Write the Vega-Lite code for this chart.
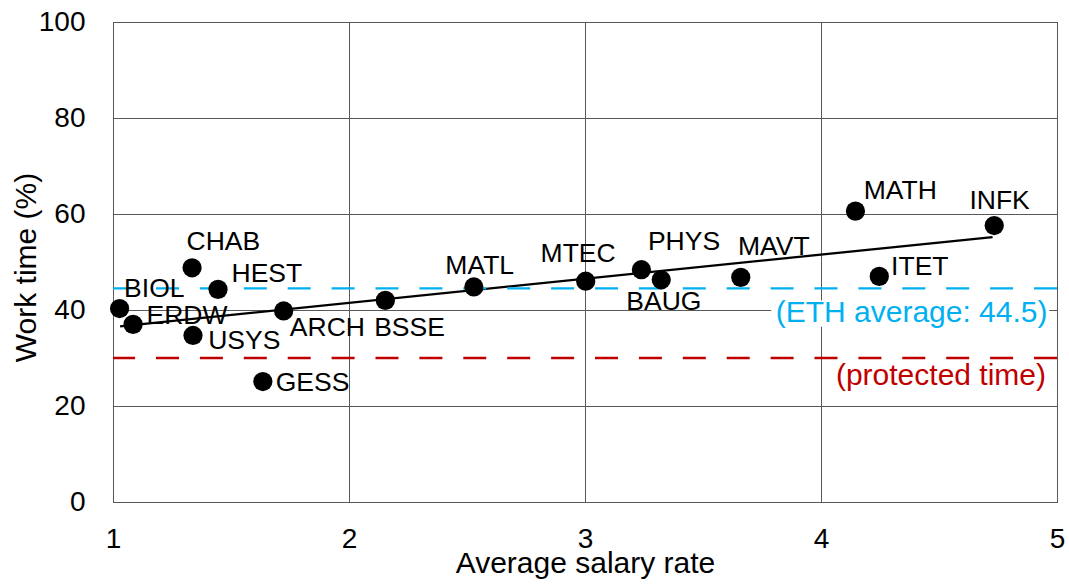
{
  "$schema": "https://vega.github.io/schema/vega-lite/v6.json",
  "width": 944,
  "height": 480,
  "autosize": "none",
  "padding": {"left": 113, "top": 22, "right": 12, "bottom": 83},
  "background": "white",
  "config": {
    "font": "Liberation Sans",
    "view": {"stroke": "#000000", "strokeWidth": 1},
    "axisX": {"labelFontSize": 28, "labelPadding": 23, "ticks": false, "domain": false, "grid": true, "gridColor": "#595959", "gridWidth": 1, "gridOpacity": 1, "labelFlush": false, "labelOverlap": false, "titleFontSize": 30, "titleFontWeight": "normal", "titleY": 70, "titleBaseline": "alphabetic", "labelColor": "#000000", "titleColor": "#000000", "labelFont": "Liberation Sans", "titleFont": "Liberation Sans"},
    "axisY": {"labelFontSize": 28, "labelPadding": 28, "ticks": false, "domain": false, "grid": true, "gridColor": "#595959", "gridWidth": 1, "gridOpacity": 1, "labelFlush": false, "labelOverlap": false, "titleFontSize": 30, "titleFontWeight": "normal", "titleX": -78, "titleY": 245, "titleAngle": 270, "titleAlign": "center", "titleBaseline": "alphabetic", "labelColor": "#000000", "titleColor": "#000000", "labelFont": "Liberation Sans", "titleFont": "Liberation Sans"},
    "text": {"align": "left", "baseline": "alphabetic", "fontSize": 26.5, "font": "Liberation Sans", "color": "#000000"}
  },
  "datasets": {
    "depts": [
      {"dept": "BIOL", "sal": 1.028, "work": 40.3},
      {"dept": "ERDW", "sal": 1.085, "work": 37.0},
      {"dept": "CHAB", "sal": 1.335, "work": 48.8},
      {"dept": "HEST", "sal": 1.445, "work": 44.3},
      {"dept": "USYS", "sal": 1.339, "work": 34.7},
      {"dept": "GESS", "sal": 1.635, "work": 25.1},
      {"dept": "ARCH", "sal": 1.723, "work": 39.8},
      {"dept": "BSSE", "sal": 2.154, "work": 42.0},
      {"dept": "MATL", "sal": 2.529, "work": 44.8},
      {"dept": "MTEC", "sal": 3.003, "work": 46.0},
      {"dept": "PHYS", "sal": 3.239, "work": 48.4},
      {"dept": "BAUG", "sal": 3.323, "work": 46.3},
      {"dept": "MAVT", "sal": 3.660, "work": 46.8},
      {"dept": "MATH", "sal": 4.146, "work": 60.6},
      {"dept": "ITET", "sal": 4.247, "work": 47.0},
      {"dept": "INFK", "sal": 4.734, "work": 57.6}
    ],
    "trend": [
      {"sal": 1.03, "work": 36.6},
      {"sal": 4.727, "work": 55.2}
    ],
    "refs": [
      {"note": "(ETH average: 44.5)", "work": 44.5},
      {"note": "(protected time)", "work": 30}
    ]
  },
  "layer": [
    {
      "data": {"name": "trend"},
      "mark": {"type": "line", "color": "#000000", "strokeWidth": 2.3},
      "encoding": {
        "x": {"field": "sal", "type": "quantitative", "title": "Average salary rate", "scale": {"domain": [1, 5], "nice": false, "zero": false}, "axis": {"values": [1, 2, 3, 4, 5], "format": "d"}},
        "y": {"field": "work", "type": "quantitative", "title": "Work time (%)", "scale": {"domain": [0, 100], "nice": false}, "axis": {"values": [0, 20, 40, 60, 80, 100], "format": "d"}}
      }
    },
    {
      "data": {"name": "refs"},
      "mark": {"type": "rect", "fill": "white"},
      "transform": [{"filter": "datum.work > 40"}],
      "encoding": {
        "x": {"datum": 3.789, "type": "quantitative"},
        "x2": {"datum": 4.967},
        "y": {"datum": 42.0, "type": "quantitative"},
        "y2": {"datum": 36.5}
      }
    },
    {
      "data": {"name": "refs"},
      "mark": {"type": "rule", "strokeWidth": 2.3, "strokeDash": [23, 20.9]},
      "encoding": {
        "y": {"field": "work", "type": "quantitative", "title": "Work time (%)"},
        "color": {"field": "note", "type": "nominal", "scale": {"domain": ["(ETH average: 44.5)", "(protected time)"], "range": ["#00B0F0", "#C00000"]}, "legend": null}
      }
    },
    {
      "data": {"name": "refs"},
      "transform": [{"filter": "datum.work > 40"}],
      "mark": {"type": "text", "align": "right", "fontSize": 30, "dx": -9.5, "dy": 33.6},
      "encoding": {
        "x": {"datum": 5, "type": "quantitative"},
        "y": {"field": "work", "type": "quantitative", "title": "Work time (%)"},
        "text": {"field": "note"},
        "color": {"field": "note", "type": "nominal", "legend": null}
      }
    },
    {
      "data": {"name": "refs"},
      "transform": [{"filter": "datum.work < 40"}],
      "mark": {"type": "text", "align": "right", "fontSize": 30, "dx": -11, "dy": 27.3},
      "encoding": {
        "x": {"datum": 5, "type": "quantitative"},
        "y": {"field": "work", "type": "quantitative", "title": "Work time (%)"},
        "text": {"field": "note"},
        "color": {"field": "note", "type": "nominal", "legend": null}
      }
    },
    {
      "data": {"name": "depts"},
      "encoding": {
        "x": {"field": "sal", "type": "quantitative", "title": "Average salary rate"},
        "y": {"field": "work", "type": "quantitative", "title": "Work time (%)"},
        "text": {"field": "dept"}
      },
      "layer": [
        {"mark": {"type": "circle", "size": 370, "color": "#000000", "opacity": 1}, "encoding": {"text": null}},
        {"transform": [{"filter": "datum.dept === 'BIOL'"}], "mark": {"type": "text", "dx": 4.5, "dy": -11.6}},
        {"transform": [{"filter": "datum.dept === 'ERDW'"}], "mark": {"type": "text", "dx": 13.5, "dy": 0}},
        {"transform": [{"filter": "datum.dept === 'CHAB'"}], "mark": {"type": "text", "dx": -5.5, "dy": -17.3}},
        {"transform": [{"filter": "datum.dept === 'HEST'"}], "mark": {"type": "text", "dx": 13.5, "dy": -7.3}},
        {"transform": [{"filter": "datum.dept === 'USYS'"}], "mark": {"type": "text", "dx": 15.2, "dy": 13.3}},
        {"transform": [{"filter": "datum.dept === 'GESS'"}], "mark": {"type": "text", "dx": 12.9, "dy": 9.4}},
        {"transform": [{"filter": "datum.dept === 'ARCH'"}], "mark": {"type": "text", "dx": 6.2, "dy": 25.3}},
        {"transform": [{"filter": "datum.dept === 'BSSE'"}], "mark": {"type": "text", "dx": -11.2, "dy": 36}},
        {"transform": [{"filter": "datum.dept === 'MATL'"}], "mark": {"type": "text", "dx": -28.5, "dy": -12.7}},
        {"transform": [{"filter": "datum.dept === 'MTEC'"}], "mark": {"type": "text", "dx": -45.1, "dy": -19.3}},
        {"transform": [{"filter": "datum.dept === 'PHYS'"}], "mark": {"type": "text", "dx": 6.5, "dy": -19.3}},
        {"transform": [{"filter": "datum.dept === 'BAUG'"}], "mark": {"type": "text", "dx": -34.9, "dy": 30}},
        {"transform": [{"filter": "datum.dept === 'MAVT'"}], "mark": {"type": "text", "dx": -2.8, "dy": -22}},
        {"transform": [{"filter": "datum.dept === 'MATH'"}], "mark": {"type": "text", "dx": 8.2, "dy": -12.4}},
        {"transform": [{"filter": "datum.dept === 'ITET'"}], "mark": {"type": "text", "dx": 11.8, "dy": -1}},
        {"transform": [{"filter": "datum.dept === 'INFK'"}], "mark": {"type": "text", "dx": -24.8, "dy": -17}}
      ]
    }
  ]
}
